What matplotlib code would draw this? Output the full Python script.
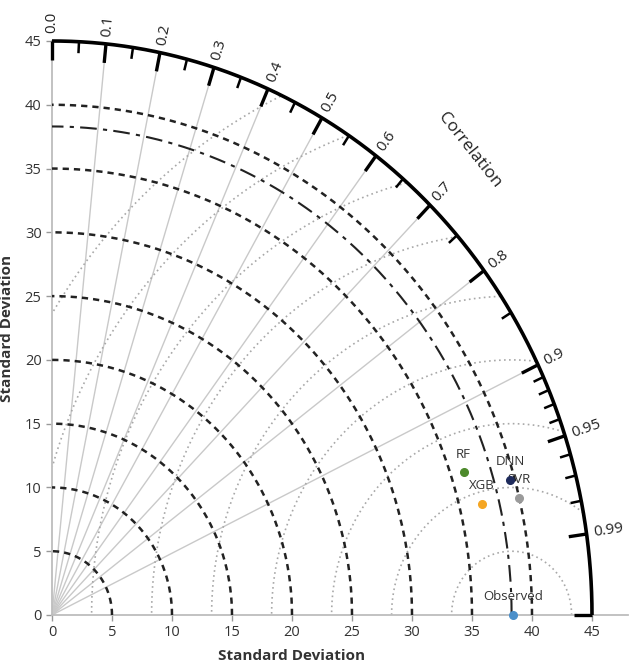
import matplotlib.pyplot as plt
import numpy as np

plt.rcParams['font.family'] = ['Open Sans', 'DejaVu Sans']

# Taylor diagram data (std dev, correlation-ish positions)
model_names = ['Observed', 'DNN', 'SVR', 'XGB', 'RF']
model_x = [38.4, 38.2, 38.9, 35.8, 34.3]
model_y = [0.0, 10.6, 9.2, 8.7, 11.2]
model_colors = ['#4b8fc9', '#1e2b5c', '#9a9a9a', '#f5a623', '#4d8a2c']

obs_std = 38.3
max_std = 45
std_ticks = np.arange(0, 50, 5)
std_circles = [5, 10, 15, 20, 25, 30, 35, 40]
rms_circles = [5, 10, 15, 20, 25, 30, 35, 40, 45]

corr_major = [0.0, 0.1, 0.2, 0.3, 0.4, 0.5, 0.6, 0.7, 0.8, 0.9, 0.95, 0.99, 1.0]
corr_labels = ['0.0', '0.1', '0.2', '0.3', '0.4', '0.5', '0.6', '0.7', '0.8', '0.9', '0.95', '0.99', '']
corr_minor = [0.05, 0.15, 0.25, 0.35, 0.45, 0.55, 0.65, 0.75, 0.85,
              0.91, 0.92, 0.93, 0.94, 0.96, 0.97, 0.98]
corr_lines = [0.1, 0.2, 0.3, 0.4, 0.5, 0.6, 0.7, 0.8, 0.9]

fig = plt.figure(figsize=(6.33, 6.70), dpi=100)
ax = fig.add_axes([52 / 633, 55 / 670, 576 / 633, 574 / 670])
ax.set_xlim(0, 48)
ax.set_ylim(0, 45)

t = np.linspace(0, np.pi / 2, 400)

# correlation rays
for c in corr_lines:
    a = np.arccos(c)
    ax.plot([0, max_std * np.cos(a)], [0, max_std * np.sin(a)], color='#c9c9c9', lw=1.0, zorder=1)

# RMS circles around the observed point
tt = np.linspace(0, np.pi, 800)
for r in rms_circles:
    x = obs_std + r * np.cos(tt)
    y = r * np.sin(tt)
    mask = (np.hypot(x, y) > max_std) | (x < 0)
    x = np.where(mask, np.nan, x)
    y = np.where(mask, np.nan, y)
    ax.plot(x, y, color='#a8a8a8', lw=1.2, ls=(0, (1, 2)), zorder=2)

# std dev circles
for r in std_circles:
    ax.plot(r * np.cos(t), r * np.sin(t), color='#222222', lw=1.8, ls=(0, (2.5, 2)), zorder=3)
ax.plot(obs_std * np.cos(t), obs_std * np.sin(t), color='#222222', lw=1.5,
        ls=(0, (8, 3, 2, 3)), zorder=3)

# outer arc
ax.plot(max_std * np.cos(t), max_std * np.sin(t), color='black', lw=2.6, zorder=5,
        clip_on=False, solid_capstyle='butt')

# correlation ticks and labels
for c, lab in zip(corr_major, corr_labels):
    a = np.arccos(c)
    ax.plot([max_std * np.cos(a), (max_std - 1.5) * np.cos(a)],
            [max_std * np.sin(a), (max_std - 1.5) * np.sin(a)],
            color='black', lw=2.4, zorder=5, clip_on=False, solid_capstyle='butt')
    if lab:
        p0 = ax.transData.transform((0, 0))
        p1 = ax.transData.transform((np.cos(a), np.sin(a)))
        rot = np.degrees(np.arctan2(p1[1] - p0[1], p1[0] - p0[0]))
        ax.text(45.6 * np.cos(a), 45.6 * np.sin(a), lab, rotation=rot,
                rotation_mode='anchor', ha='left', va='center', fontsize=11,
                color='#222222', clip_on=False)
for c in corr_minor:
    a = np.arccos(c)
    ax.plot([max_std * np.cos(a), (max_std - 0.9) * np.cos(a)],
            [max_std * np.sin(a), (max_std - 0.9) * np.sin(a)],
            color='black', lw=1.8, zorder=5, clip_on=False, solid_capstyle='butt')

ax.text(34.8, 36.4, 'Correlation', rotation=-51.5, rotation_mode='anchor',
        ha='center', va='center', fontsize=12.5, color='#222222', clip_on=False)

# model points
for name, x, y, col in zip(model_names, model_x, model_y, model_colors):
    ax.annotate(name, (x, y), xytext=(0, 13), textcoords='offset points',
                ha='center', va='center', fontsize=9.5, color='#333333', zorder=6)
for name, x, y, col in zip(model_names, model_x, model_y, model_colors):
    ax.plot(x, y, 'o', color=col, ms=5.5, zorder=7, clip_on=False)

# axes styling
for s in ['top', 'right']:
    ax.spines[s].set_visible(False)
ax.spines['left'].set_color('#bdbdbd')
ax.spines['bottom'].set_color('#bdbdbd')
ax.spines['left'].set_bounds(0, 45)
ax.spines['left'].set_linewidth(1.3)
ax.spines['bottom'].set_linewidth(1.3)
ax.set_xticks(std_ticks)
ax.set_yticks(std_ticks)
ax.tick_params(colors='#333333', labelsize=10.5, length=4, width=1, direction='out')
ax.tick_params(axis='both', color='#999999')
ax.set_xlabel('Standard Deviation', fontsize=11, fontweight='bold', color='#333333', labelpad=6)
ax.set_ylabel('Standard Deviation', fontsize=11, fontweight='bold', color='#333333', labelpad=8)
ax.xaxis.set_label_coords(20 / 48, -0.06)

fig.savefig('out.png', dpi=100)
